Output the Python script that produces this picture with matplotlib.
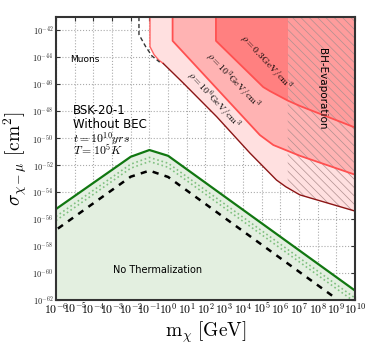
import numpy as np
from matplotlib import pyplot as plt
from matplotlib import ticker

plt.rcParams["mathtext.fontset"] = "cm"
plt.rcParams["hatch.linewidth"] = 0.5

# log10 values
green_x = [-6, -2, -1, 0, 10]
green_y = [-55.25, -51.37, -50.87, -51.3, -61.3]
dot1_off = -0.55
dot2_off = -0.85
black_x = [-5.9, -2, -1, 0, 9]
black_y = [-56.7, -52.85, -52.4, -52.87, -61.9]

# rho = 1e6 GeV/cm^3
light_x = [-0.97, -0.97, -0.75, -0.5, -0.26, 0.81, 2.6, 4.38, 5.8, 6.3, 7.05, 10]
light_y = [-41, -43.2, -43.8, -44.2, -44.45, -45.9, -48.4, -51.1, -53.1, -53.6, -54.2, -55.4]
# rho = 1e3 GeV/cm^3
mid_x = [0.24, 0.24, 4.91, 5.63, 7.05, 10]
mid_y = [-41, -42.77, -49.76, -50.5, -51.3, -52.7]
# rho = 0.3 GeV/cm^3
dark_x = [2.56, 2.56, 5.09, 5.45, 6.4, 7.05, 10]
dark_y = [-41, -42.77, -46.2, -46.5, -47.2, -47.6, -49.2]
# dashed black bound at top
top_x = [-1.56, -1.56, -1.2, -0.86, -0.45]
top_y = [-41, -42.3, -43.2, -43.9, -44.35]

bh_xmin = 6.4
ytop = -41

xticks = list(range(-6, 11))
yticks = list(range(-62, -41, 2))

fig = plt.figure(figsize=(3.74, 3.54), dpi=100)
ax = fig.add_axes([0.1497, 0.1525, 0.7995, 0.7995])

def p(a):
    return 10.0 ** np.asarray(a, dtype=float)

# red regions
lx, ly = np.array(light_x), np.array(light_y)
mx, my = np.array(mid_x), np.array(mid_y)
dx, dy = np.array(dark_x), np.array(dark_y)
ax.fill_between(p(lx), p(ly), p(ytop), color="#ffe0e0", lw=0, zorder=1)
ax.fill_between(p(mx), p(my), p(ytop), color="#ffb3b3", lw=0, zorder=1.1)
left = dx <= bh_xmin
right = dx >= bh_xmin
ax.fill_between(p(dx[left]), p(dy[left]), p(ytop), color="#ff8080", lw=0, zorder=1.2)
ax.fill_between(p(dx[right]), p(dy[right]), p(ytop), color="#ff9c9c", lw=0, zorder=1.2)

# BH evaporation hatch
bh = lx >= bh_xmin
bx = np.concatenate([[bh_xmin], lx[bh]])
by = np.concatenate([[np.interp(bh_xmin, lx[3:], ly[3:])], ly[bh]])
ax.fill_between(p(bx), p(by), p(ytop), facecolor="none", edgecolor="#b09090",
                hatch="\\\\\\\\", lw=0, zorder=1.3)

ax.plot(p(lx[:5]), p(ly[:5]), color="#ff6060", lw=1.0, zorder=2)
ax.plot(p(lx[4:]), p(ly[4:]), color="#8b1515", lw=1.0, zorder=2)
ax.plot(p(mx), p(my), color="#ff5050", lw=1.3, zorder=2)
ax.plot(p(dx), p(dy), color="#ff5050", lw=1.3, zorder=2)
ax.plot(p(top_x), p(top_y), color="#333333", lw=1.0, ls=(0, (3, 2)), zorder=2)

# thermalization curves
gx, gy = np.array(green_x), np.array(green_y)
ax.fill_between(p(gx), 1e-62, p(gy), color="#e3efe0", lw=0, zorder=1)
ax.plot(p(gx), p(gy + dot1_off), color="#80c080", lw=1.2, ls=":", zorder=2)
ax.plot(p(gx), p(gy + dot2_off), color="#80c080", lw=1.2, ls=":", zorder=2)
ax.plot(p(black_x), p(black_y), color="black", lw=1.8, ls=(0, (2.5, 2.5)), zorder=2)
ax.plot(p(gx), p(gy), color="#117711", lw=1.6, zorder=2.5)

ax.set_xscale("log")
ax.set_yscale("log")
ax.set_xlim(1e-6, 1e10)
ax.set_ylim(1e-62, 1e-41)

ax.set_xticks(p(xticks))
ax.set_yticks(p(yticks))
ax.xaxis.set_minor_locator(ticker.NullLocator())
ax.yaxis.set_minor_locator(ticker.NullLocator())
ax.set_xticklabels([r"$10^{%d}$" % v for v in xticks], fontsize=8.5)
ax.set_yticklabels([r"$\mathsf{10^{%d}}$" % v for v in yticks], fontsize=6, color="#222222")
ax.tick_params(direction="in", top=True, right=True, length=3, width=0.8,
               color="#333333", pad=2)
ax.tick_params(axis="x", pad=1)
ax.grid(True, ls=":", color="#aaaaaa", lw=0.8, zorder=0)
ax.set_axisbelow(True)
for s in ax.spines.values():
    s.set_color("#333333")
    s.set_linewidth(1.5)

ax.set_xlabel(r"$\mathrm{m}_\chi\ [\mathrm{GeV}]$", fontsize=14, labelpad=2)
ax.set_ylabel(r"$\sigma_{\chi-\mu}\ [\mathrm{cm}^2]$", fontsize=14, labelpad=2)

# annotations
kw = dict(transform=ax.transAxes, zorder=5)
ax.text(0.047, 0.85, "Muons", fontsize=6.5, va="center", **kw)
ax.text(0.057, 0.67, "BSK-20-1", fontsize=8.5, va="center", **kw)
ax.text(0.057, 0.62, "Without BEC", fontsize=8.5, va="center", **kw)
ax.text(0.057, 0.572, r"$t = 10^{10} yrs$", fontsize=8.5, va="center", **kw)
ax.text(0.057, 0.526, r"$T = 10^5 K$", fontsize=8.5, va="center", **kw)
ax.text(0.19, 0.105, "No Thermalization", fontsize=7, va="center", **kw)
ax.text(0.89, 0.745, "BH-Evaporation", fontsize=7.5, rotation=-90,
        ha="center", va="center", **kw)
ax.text(0.70, 0.84, r"$\rho = 0.3\mathrm{GeV/cm}^3$", fontsize=7, rotation=-47,
        ha="center", va="center", **kw)
ax.text(0.59, 0.775, r"$\rho = 10^3\mathrm{GeV/cm}^3$", fontsize=7, rotation=-46,
        ha="center", va="center", **kw)
ax.text(0.525, 0.705, r"$\rho = 10^6\mathrm{GeV/cm}^3$", fontsize=7, rotation=-47,
        ha="center", va="center", **kw)

fig.savefig("out.png", dpi=100)
